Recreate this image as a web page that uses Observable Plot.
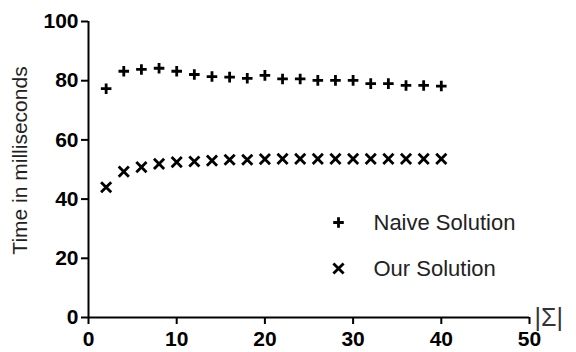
<!DOCTYPE html>
<html>
<head>
<meta charset="utf-8">
<script src="https://cdn.jsdelivr.net/npm/d3@7"></script>
<script src="https://cdn.jsdelivr.net/npm/@observablehq/plot@0.6"></script>
<style>
  html, body { margin: 0; padding: 0; background: #fff; }
  #chart { width: 576px; height: 352px; }
</style>
</head>
<body>
<div id="chart"></div>
<script>
// ---- data ----
const sigmaSizes = [2, 4, 6, 8, 10, 12, 14, 16, 18, 20, 22, 24, 26, 28, 30, 32, 34, 36, 38, 40];
const naiveTimes = [77.3, 83.2, 83.8, 84.2, 83.2, 82.1, 81.4, 81.2, 80.8, 81.8, 80.6, 80.6, 80.1, 80.1, 80.1, 79.0, 79.0, 78.4, 78.4, 78.2];
const ourTimes   = [44.0, 49.3, 50.8, 51.9, 52.5, 52.7, 53.0, 53.3, 53.3, 53.5, 53.6, 53.6, 53.6, 53.6, 53.6, 53.6, 53.6, 53.6, 53.6, 53.6];
const seriesNames = ["Naive Solution", "Our Solution"];
const xTicks = [0, 10, 20, 30, 40, 50];
const yTicks = [0, 20, 40, 60, 80, 100];
const yLabel = "Time in milliseconds";
const xLabel = "|\u03A3|";

const naive = sigmaSizes.map((s, i) => ({s, t: naiveTimes[i]}));
const ours = sigmaSizes.map((s, i) => ({s, t: ourTimes[i]}));

const font = "'Liberation Sans', Arial, sans-serif";

const chart = Plot.plot({
  width: 576,
  height: 352,
  marginTop: 21,
  marginRight: 47,
  marginBottom: 35,
  marginLeft: 88,
  style: {fontFamily: font, background: "#fff", color: "#000"},
  x: {domain: [0, 50]},
  y: {domain: [0, 100]},
  marks: [
    Plot.axisX({ticks: xTicks, tickSize: 7, tickPadding: 7, strokeWidth: 2, fontSize: 21, fontWeight: "bold", label: null, fill: "#000", stroke: "#000"}),
    Plot.axisY({ticks: yTicks, tickSize: 7, tickPadding: 3, strokeWidth: 2, fontSize: 21, fontWeight: "bold", label: null, fill: "#000", stroke: "#000"}),
    Plot.ruleX([0], {stroke: "#000", strokeWidth: 2}),
    Plot.ruleY([0], {stroke: "#000", strokeWidth: 2}),
    Plot.dot(naive, {x: "s", y: "t", symbol: "plus", r: 3.5, stroke: "#000", strokeWidth: 2.8}),
    Plot.dot(ours, {x: "s", y: "t", symbol: "times", r: 4.7, stroke: "#000", strokeWidth: 2.8}),
    // axis titles
    Plot.text([yLabel], {text: d => d, frameAnchor: "left", textAnchor: "middle", lineAnchor: "middle", rotate: -90, dx: -68, dy: -9, fontSize: 21, fill: "#222"}),
    Plot.text([xLabel], {text: d => d, frameAnchor: "bottom-right", textAnchor: "start", lineAnchor: "middle", dx: 5, dy: 0, fontSize: 25, fill: "#333"}),
    // legend
    Plot.dot([seriesNames[0]], {frameAnchor: "top-left", dx: 250, dy: 201, symbol: "plus", r: 3.5, stroke: "#000", strokeWidth: 2.8}),
    Plot.dot([seriesNames[1]], {frameAnchor: "top-left", dx: 250, dy: 247, symbol: "times", r: 4.7, stroke: "#000", strokeWidth: 2.8}),
    Plot.text([seriesNames[0]], {text: d => d, frameAnchor: "top-left", lineAnchor: "middle", dx: 285, dy: 201, textAnchor: "start", fontSize: 22, fill: "#222"}),
    Plot.text([seriesNames[1]], {text: d => d, frameAnchor: "top-left", lineAnchor: "middle", dx: 285, dy: 247, textAnchor: "start", fontSize: 22, fill: "#222"})
  ]
});
document.getElementById("chart").appendChild(chart);
</script>
</body>
</html>
